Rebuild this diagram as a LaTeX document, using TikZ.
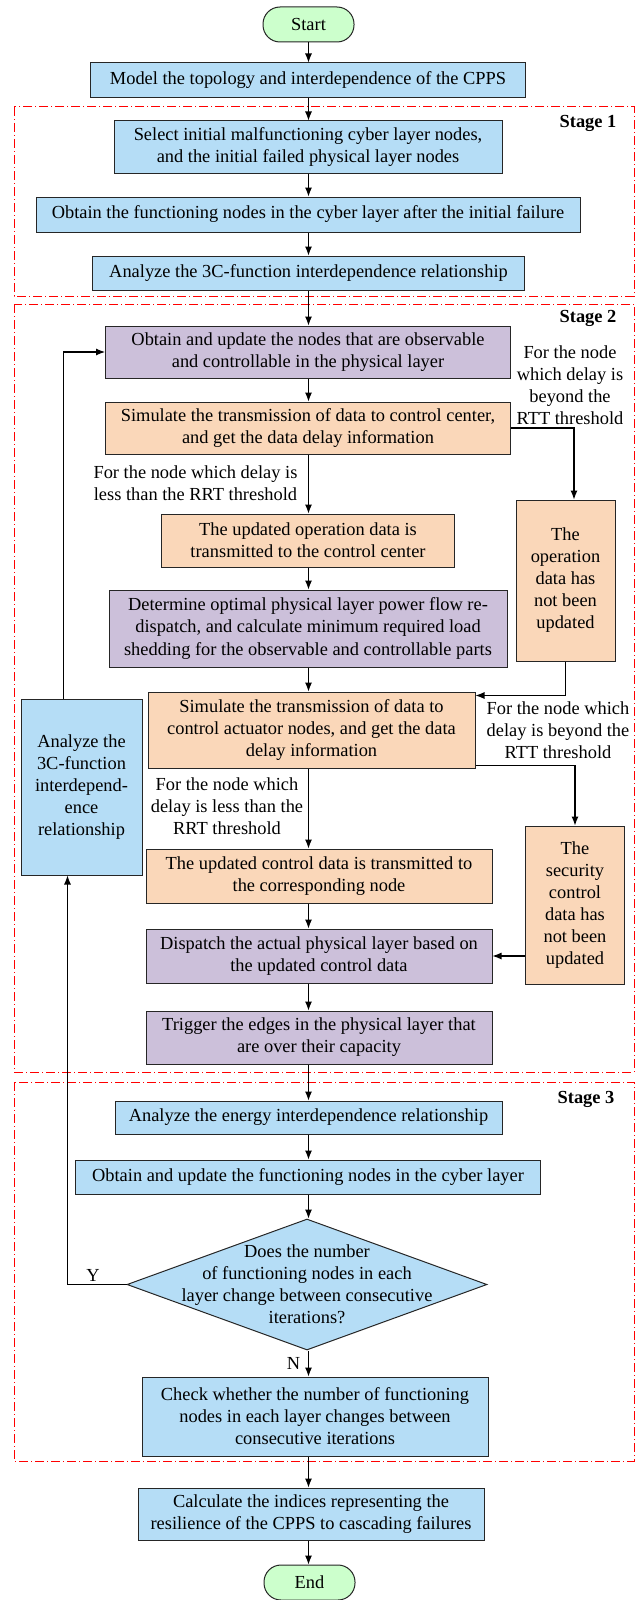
\documentclass[tikz,border=0pt]{standalone}
\usepackage{fontspec}
\setmainfont{Liberation Serif}
\usetikzlibrary{shapes.geometric,arrows.meta}

\definecolor{boxblue}{RGB}{181,221,246}
\definecolor{boxpurple}{RGB}{204,192,218}
\definecolor{boxorange}{RGB}{250,215,185}
\definecolor{boxgreen}{RGB}{204,255,204}

\tikzset{
  box/.style={draw=black!85, line width=1pt, align=center, inner sep=2pt},
  bluebox/.style={box, fill=boxblue},
  purplebox/.style={box, fill=boxpurple},
  orangebox/.style={box, fill=boxorange},
  terminal/.style={box, fill=boxgreen, rounded corners=17pt, minimum width=91pt, minimum height=35pt},
  decision/.style={draw=black!85, line width=1pt, fill=boxblue, shape=diamond, inner sep=0pt},
  stageframe/.style={draw=red, line width=1pt, dash pattern=on 9pt off 3pt on 1pt off 3pt},
  stagelabel/.style={font=\fontsize{18.4}{22}\selectfont\bfseries},
  note/.style={align=center},
  flow/.style={->, line width=1.1pt, >={Latex[length=9pt,width=7pt]}}
}

\begin{document}
\begin{tikzpicture}[x=1pt,y=-1pt,font=\fontsize{18.4}{22}\selectfont]
        \useasboundingbox (0,0) rectangle (641,1600);
        % stage frames
        \draw[stageframe] (14,107) rectangle (634,296);
        \draw[stageframe] (14,304) rectangle (634,1072);
        \draw[stageframe] (14,1082) rectangle (634,1461);
        \node[stagelabel] (st1) at (588,123) {Stage 1};
        \node[stagelabel] (st2) at (588,318) {Stage 2};
        \node[stagelabel] (st3) at (586,1099) {Stage 3};
        \coordinate (col) at (308.5,0);

        % main column
        \node[terminal] (start) at (308.5,24.5) {Start};
        \node[bluebox, minimum width=435pt, minimum height=35pt] (model) at (308,80.5) {Model the topology and interdependence of the CPPS};
        \node[bluebox, minimum width=388pt, minimum height=52pt] (select) at (308,147) {Select initial malfunctioning cyber layer nodes,\\and the initial failed physical layer nodes};
        \node[bluebox, minimum width=544pt, minimum height=35pt] (obtfn) at (308,214.5) {Obtain the functioning nodes in the cyber layer after the initial failure};
        \node[bluebox, minimum width=432pt, minimum height=34pt] (ana) at (308.5,273) {Analyze the 3C-function interdependence relationship};
        \node[purplebox, minimum width=405pt, minimum height=52pt] (obsupd) at (308,352) {Obtain and update the nodes that are observable\\and controllable in the physical layer};
        \node[orangebox, minimum width=405pt, minimum height=52pt] (sim1) at (308,428) {Simulate the transmission of data to control center,\\and get the data delay information};
        \node[orangebox, minimum width=293pt, minimum height=53pt] (updop) at (308,540.5) {The updated operation data is\\transmitted to the control center};
        \node[orangebox, minimum width=99pt, minimum height=161pt] (opnot) at (565.5,580.5) {The\\operation\\data has\\not been\\updated};
        \node[purplebox, minimum width=398pt, minimum height=77pt] (determ) at (308,628.5) {Determine optimal physical layer power flow re-\\dispatch, and calculate minimum required load\\shedding for the observable and controllable parts};
        \node[orangebox, minimum width=327pt, minimum height=76pt] (sim2) at (311.5,730) {Simulate the transmission of data to\\control actuator nodes, and get the data\\delay information};
        \node[bluebox, minimum width=121pt, minimum height=176pt] (ana3c) at (81.5,787) {Analyze the\\3C-function\\interdepend-\\ence\\relationship};
        \node[orangebox, minimum width=346pt, minimum height=54pt] (updctl) at (319,876) {The updated control data is transmitted to\\the corresponding node};
        \node[orangebox, minimum width=99pt, minimum height=158pt] (secnot) at (575,905) {The\\security\\control\\data has\\not been\\updated};
        \node[purplebox, minimum width=346pt, minimum height=54pt] (dispatch) at (319,956) {Dispatch the actual physical layer based on\\the updated control data};
        \node[purplebox, minimum width=346pt, minimum height=53pt] (trigger) at (319,1037.5) {Trigger the edges in the physical layer that\\are over their capacity};
        \node[bluebox, minimum width=387pt, minimum height=33pt] (energy) at (308.5,1117.5) {Analyze the energy interdependence relationship};
        \node[bluebox, minimum width=465pt, minimum height=34pt] (obtupd) at (308,1177) {Obtain and update the functioning nodes in the cyber layer};
        \node[decision, minimum width=360pt, minimum height=131pt] (dec) at (307,1284.5) {};
        \node[note] (dectext) at (dec.center) {Does the number\\of functioning nodes in each\\layer change between consecutive\\iterations?};
        \node[bluebox, minimum width=346pt, minimum height=79pt] (check) at (315,1416.5) {Check whether the number of functioning\\nodes in each layer changes between\\consecutive iterations};
        \node[bluebox, minimum width=346pt, minimum height=52pt] (calc) at (311,1514) {Calculate the indices representing the\\resilience of the CPPS to cascading failures};
        \node[terminal] (end) at (309.5,1582.5) {End};

        % branch notes
        \node[note] (lbl1) at (570,385) {For the node\\which delay is\\beyond the\\RTT threshold};
        \node[note] (lbl2) at (195.5,483) {For the node which delay is\\less than the RRT threshold};
        \node[note] (lbl3) at (558,730) {For the node which\\delay is beyond the\\RTT threshold};
        \node[note] (lbl4) at (227,806) {For the node which\\delay is less than the\\RRT threshold};
        \node (yes) at (93,1275) {Y};
        \node (no) at (293.5,1363) {N};

        % main arrows
        \foreach \a/\b in {start/model, model/select, select/obtfn, obtfn/ana, ana/obsupd, obsupd/sim1, sim1/updop, updop/determ, determ/sim2, sim2/updctl, updctl/dispatch, dispatch/trigger, trigger/energy, energy/obtupd, obtupd/dec, dec/check, check/calc, calc/end}
          \draw[flow] (\a.south -| col) -- (\b.north -| col);

        % side arrows
        \draw[flow] (sim1.east) -| ([xshift=8.5pt]opnot.north);
        \draw[flow] (opnot.south) |- ([yshift=-4pt]sim2.north east);
        \draw[flow] ([yshift=3pt]sim2.south east) -| (secnot.north);
        \draw[flow] (secnot.west |- dispatch.east) -- (dispatch.east);
        \draw[flow] ([xshift=-18pt]ana3c.north) |- (obsupd.west);
        \draw[flow] (dec.west) -| ([xshift=-14pt]ana3c.south);
\end{tikzpicture}
\end{document}
